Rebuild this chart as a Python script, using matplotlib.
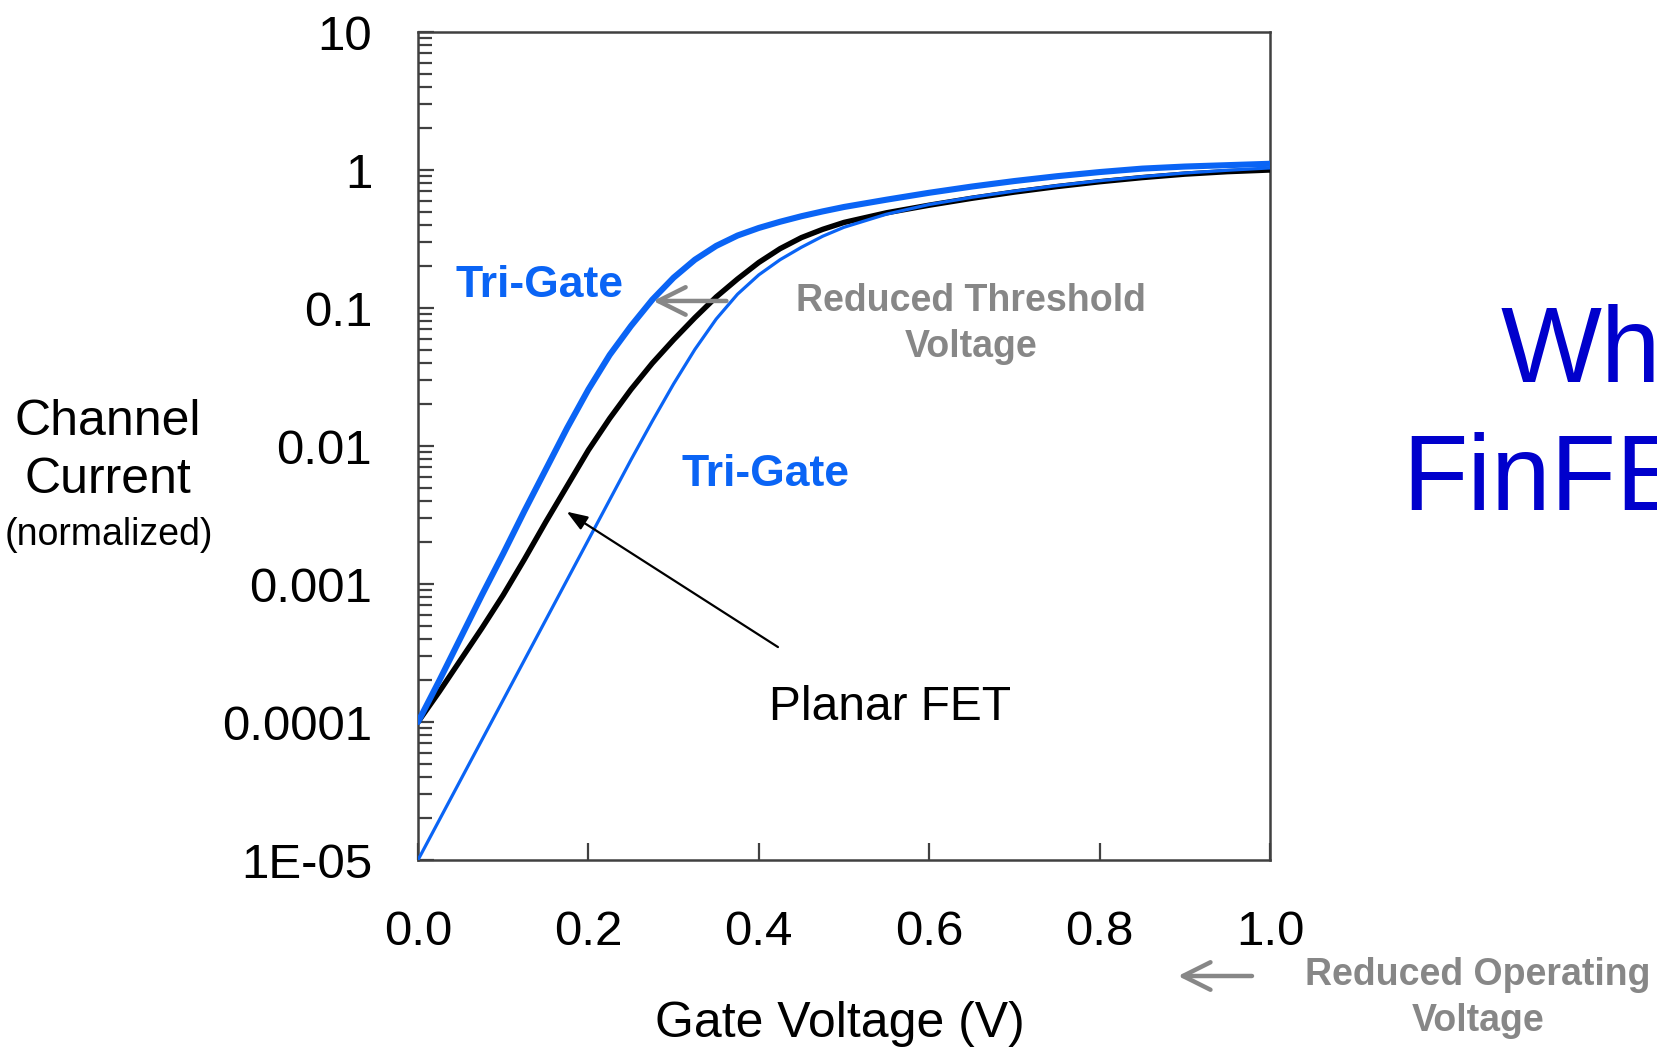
import numpy as np
import matplotlib.pyplot as plt
from matplotlib.patches import FancyArrowPatch
from matplotlib.ticker import FixedLocator, FixedFormatter, LogLocator, NullFormatter

plt.rcParams['font.family'] = ['Liberation Sans', 'DejaVu Sans']

W, H = 1657, 1048

# gate voltage (V) and log10 of normalized channel current
vg = [0.0, 0.025, 0.05, 0.075, 0.1, 0.125, 0.15, 0.175, 0.2, 0.225, 0.25, 0.275,
      0.3, 0.325, 0.35, 0.375, 0.4, 0.425, 0.45, 0.475, 0.5, 0.55, 0.6, 0.65,
      0.7, 0.75, 0.8, 0.85, 0.9, 0.95, 1.0]
trigate_shifted = [-4.00, -3.70, -3.39, -3.08, -2.78, -2.47, -2.17, -1.87, -1.59, -1.34, -1.13, -0.94,
                   -0.78, -0.65, -0.55, -0.475, -0.42, -0.375, -0.335, -0.30, -0.268, -0.215, -0.165, -0.12,
                   -0.08, -0.045, -0.015, 0.01, 0.025, 0.035, 0.045]
planar = [-4.00, -3.78, -3.55, -3.32, -3.08, -2.82, -2.55, -2.29, -2.03, -1.80, -1.59, -1.40,
          -1.23, -1.07, -0.92, -0.79, -0.67, -0.57, -0.49, -0.43, -0.38, -0.31, -0.255, -0.205,
          -0.16, -0.12, -0.085, -0.055, -0.03, -0.012, 0.0]
trigate = [-5.00, -4.71, -4.42, -4.13, -3.84, -3.55, -3.26, -2.97, -2.68, -2.39, -2.10, -1.82,
           -1.55, -1.30, -1.08, -0.90, -0.76, -0.65, -0.56, -0.48, -0.415, -0.32, -0.25, -0.198,
           -0.153, -0.113, -0.078, -0.048, -0.022, -0.002, 0.015]

x_ticks = [0.0, 0.2, 0.4, 0.6, 0.8, 1.0]
y_ticks = [1e-5, 1e-4, 1e-3, 1e-2, 1e-1, 1, 10]
y_tick_labels = ['1E-05', '0.0001', '0.001', '0.01', '0.1', '1', '10']

BLUE = '#0a64f5'
GRAY = '#878787'
AXC = '#404040'


def fig_xy(x, y):
    # pixel position (from top-left) -> figure fraction
    return x / W, 1 - y / H


fig = plt.figure(figsize=(W / 100, H / 100), dpi=100)
ax = fig.add_axes([418 / W, 1 - 860 / H, 852 / W, 828 / H])

line_kw = dict(solid_joinstyle='round', solid_capstyle='round')
ax.plot(vg, np.power(10.0, planar), color='black', lw=3.9, zorder=3, **line_kw)
ax.plot(vg, np.power(10.0, trigate), color=BLUE, lw=2.3, zorder=4, **line_kw)
ax.plot(vg, np.power(10.0, trigate_shifted), color=BLUE, lw=4.4, zorder=5, **line_kw)

ax.set_yscale('log')
ax.set_xlim(0, 1)
ax.set_ylim(1e-5, 10)
ax.yaxis.set_major_locator(FixedLocator(y_ticks))
ax.yaxis.set_major_formatter(FixedFormatter(y_tick_labels))
ax.yaxis.set_minor_locator(LogLocator(base=10, subs=np.arange(2, 10)))
ax.yaxis.set_minor_formatter(NullFormatter())
ax.set_xticks(x_ticks)
ax.set_xticklabels([f'{v:.1f}' for v in x_ticks])

for s in ax.spines.values():
    s.set_color(AXC)
    s.set_linewidth(1.8)
ax.tick_params(axis='y', which='major', direction='in', length=11.5, width=1.6,
               color=AXC, labelsize=35.5, pad=33)
ax.tick_params(axis='y', which='minor', direction='in', length=10, width=1.6, color=AXC)
ax.tick_params(axis='x', which='major', direction='in', length=12, width=1.6,
               color=AXC, labelsize=35.5, pad=36)

# axis titles
fig.text(*fig_xy(840, 1037), 'Gate Voltage (V)', fontsize=36, ha='center', va='baseline')
fig.text(*fig_xy(108, 435), 'Channel', fontsize=36, ha='center', va='baseline')
fig.text(*fig_xy(108, 493), 'Current', fontsize=36, ha='center', va='baseline')
fig.text(*fig_xy(109, 545), '(normalized)', fontsize=27, ha='center', va='baseline')

# curve labels
fig.text(*fig_xy(540, 297), 'Tri-Gate', fontsize=32, fontweight='bold', color=BLUE,
         ha='center', va='baseline')
fig.text(*fig_xy(765, 486), 'Tri-Gate', fontsize=32, fontweight='bold', color=BLUE,
         ha='center', va='baseline')
fig.text(*fig_xy(769, 720), 'Planar FET', fontsize=34.5, ha='left', va='baseline')
fig.text(*fig_xy(971, 311), 'Reduced Threshold', fontsize=27, fontweight='bold',
         color=GRAY, ha='center', va='baseline')
fig.text(*fig_xy(971, 357), 'Voltage', fontsize=27, fontweight='bold',
         color=GRAY, ha='center', va='baseline')
fig.text(*fig_xy(1478, 985), 'Reduced Operating', fontsize=27, fontweight='bold',
         color=GRAY, ha='center', va='baseline')
fig.text(*fig_xy(1478, 1031), 'Voltage', fontsize=27, fontweight='bold',
         color=GRAY, ha='center', va='baseline')

# arrows
ax.annotate('', xy=(0.1745, 10 ** -2.476), xytext=(0.4225, 10 ** -3.457),
            arrowprops=dict(arrowstyle='-|>,head_length=0.6,head_width=0.22', color='black',
                            lw=1.6, mutation_scale=21, shrinkA=0, shrinkB=0), zorder=6)
ax.annotate('', xy=(0.276, 10 ** -0.949), xytext=(0.362, 10 ** -0.949),
            arrowprops=dict(arrowstyle='->,head_length=0.9,head_width=0.45', color=GRAY,
                            lw=3.2, mutation_scale=22, shrinkA=0, shrinkB=0), zorder=6)
fig.add_artist(FancyArrowPatch(
    fig_xy(1252, 976), fig_xy(1178, 976), transform=fig.transFigure,
    arrowstyle='->,head_length=0.9,head_width=0.45', color=GRAY, lw=3.2,
    mutation_scale=22, shrinkA=0, shrinkB=0))

# slide title, cut off by the right edge as in the source slide
fig.text(*fig_xy(1501, 382), 'Why', fontsize=77, color='#0000cc', ha='left', va='baseline')
fig.text(*fig_xy(1402, 510), 'FinFET', fontsize=77, color='#0000cc', ha='left', va='baseline')

fig.savefig('out.png', dpi=100)
